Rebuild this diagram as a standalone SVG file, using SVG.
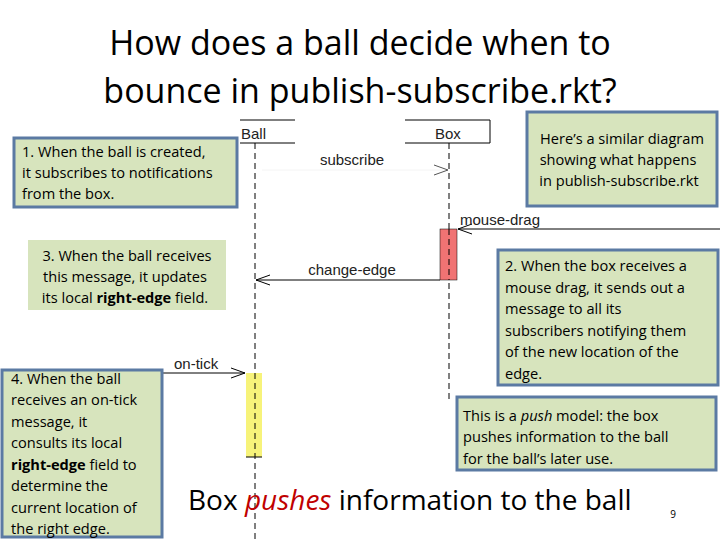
<svg xmlns="http://www.w3.org/2000/svg" width="720" height="540" viewBox="0 0 720 540">
<style>
.t{font-family:"Open Sans","Liberation Sans",sans-serif;fill:#000}
.note{fill:#d7e4bd;stroke:#5b7aa3;stroke-width:3}
.u{font-family:"Liberation Sans",Arial,sans-serif;font-size:15px;fill:#222}
.ll{stroke:#000;stroke-width:1;stroke-dasharray:6,4;fill:none}
.msg{stroke:#000;stroke-width:1;fill:none}
.n{font-size:14.6px}
</style>
<defs>
<marker id="open" markerWidth="16" markerHeight="12" refX="15" refY="6" orient="auto" markerUnits="userSpaceOnUse">
<path d="M1,1 L15,6 L1,11" fill="none" stroke="#000" stroke-width="1"/>
</marker>
<marker id="openg" markerWidth="16" markerHeight="12" refX="15" refY="6" orient="auto" markerUnits="userSpaceOnUse">
<path d="M1,1 L15,6 L1,11" fill="none" stroke="#555" stroke-width="1"/>
</marker>
</defs>
<rect width="720" height="540" fill="#fff"/>
<g id="title">
<text class="t" x="360" y="55" font-size="34" text-anchor="middle">How does a ball decide when to</text>
<text class="t" x="360" y="103" font-size="34" text-anchor="middle">bounce in publish-subscribe.rkt?</text>
</g>
<g id="ball">
<path d="M240,120 H295 M240,143 H295" stroke="#000" fill="none"/>
<text class="u" x="241" y="139" font-size="16">Ball</text>
<path class="ll" d="M255,143 V540"/>
</g>
<g id="box">
<path d="M405,120 H490 V143 H405" stroke="#000" fill="none"/>
<text class="u" x="435" y="139" font-size="16">Box</text>
<path class="ll" d="M449,143 V400"/>
</g>
<g id="activations">
<rect x="440" y="229" width="17" height="51" fill="#f07373" stroke="#000" stroke-width="0.5"/>
<rect x="246" y="373" width="16" height="84" fill="#f7f37a"/>
<path d="M246,457 H262" stroke="#000"/>
<path class="ll" d="M449,229 V280 M255,373 V457"/>
</g>
<g id="connectors">
<path d="M262,170 H448" stroke="#f4f4f4" fill="none" marker-end="url(#openg)"/>
<text class="u" x="352" y="165" text-anchor="middle">subscribe</text>
<path class="msg" d="M720,229 H458" marker-end="url(#open)"/>
<text class="u" x="460" y="225">mouse-drag</text>
<path class="msg" d="M440,280 H256" marker-end="url(#open)"/>
<text class="u" x="352" y="275" text-anchor="middle">change-edge</text>
<path class="msg" d="M163,373 H245" marker-end="url(#open)"/>
<text class="u" x="174" y="369">on-tick</text>
</g>
<g id="note1">
<rect class="note" x="14" y="138" width="223" height="69"/>
<text class="t n" x="22" y="157">1. When the ball is created,</text>
<text class="t n" x="22" y="178">it subscribes to notifications</text>
<text class="t n" x="22" y="199">from the box.</text>
</g>
<g id="note-similar">
<rect class="note" x="527" y="112" width="190" height="94"/>
<text class="t n" x="622" y="144" text-anchor="middle">Here’s a similar diagram</text>
<text class="t n" x="618" y="165" text-anchor="middle">showing what happens</text>
<text class="t n" x="619" y="186" text-anchor="middle">in publish-subscribe.rkt</text>
</g>
<g id="note3">
<rect x="28" y="240" width="198" height="70" fill="#d7e4bd"/>
<text class="t n" x="127" y="261" text-anchor="middle">3. When the ball receives</text>
<text class="t n" x="125" y="282" text-anchor="middle">this message, it updates</text>
<text class="t n" x="125" y="303" text-anchor="middle">its local <tspan font-weight="bold">right-edge</tspan> field.</text>
</g>
<g id="note2">
<rect class="note" x="498" y="250" width="220" height="135"/>
<text class="t n" x="505" y="271">2. When the box receives a</text>
<text class="t n" x="505" y="293">mouse drag, it sends out a</text>
<text class="t n" x="505" y="314">message to all its</text>
<text class="t n" x="505" y="336">subscribers notifying them</text>
<text class="t n" x="505" y="357">of the new location of the</text>
<text class="t n" x="505" y="379">edge.</text>
</g>
<g id="note-push">
<rect class="note" x="457" y="397" width="259" height="73"/>
<text class="t n" x="463" y="421">This is a <tspan font-style="italic">push</tspan> model:  the box</text>
<text class="t n" x="463" y="442">pushes information to the ball</text>
<text class="t n" x="463" y="464">for the ball’s later use.</text>
</g>
<g id="note4">
<rect class="note" x="2" y="370" width="160" height="167"/>
<text class="t n" x="11" y="384">4. When the ball</text>
<text class="t n" x="11" y="405">receives an on-tick</text>
<text class="t n" x="11" y="427">message, it</text>
<text class="t n" x="11" y="448">consults its local</text>
<text class="t n" x="11" y="470"><tspan font-weight="bold">right-edge</tspan> field to</text>
<text class="t n" x="11" y="491">determine the</text>
<text class="t n" x="11" y="513">current location of</text>
<text class="t n" x="11" y="534">the right edge.</text>
</g>
<g id="caption">
<text class="t" x="188" y="510" font-size="28">Box <tspan fill="#c00000" font-style="italic">pushes</tspan> information to the ball</text>
<text class="t" x="673" y="518" font-size="10" fill="#888" text-anchor="middle">9</text>
</g>
</svg>
